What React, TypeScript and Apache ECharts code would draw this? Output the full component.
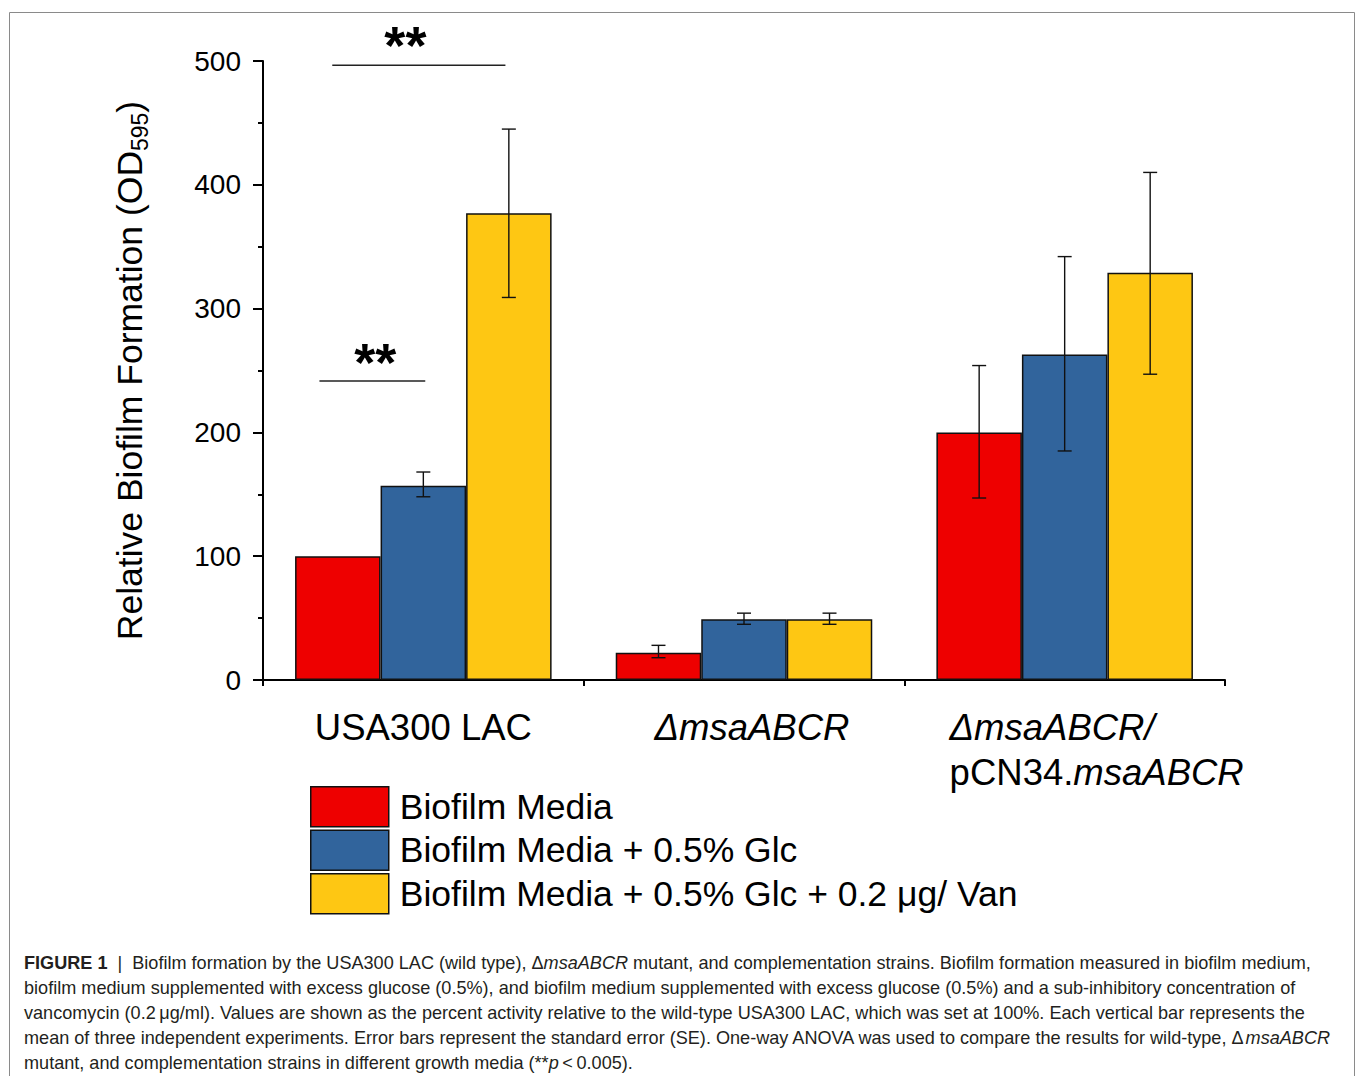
import React, { useEffect, useRef } from "react";
import * as echarts from "echarts";

// ---------- data ----------
const categories = ["USA300 LAC", "ΔmsaABCR", "ΔmsaABCR/pCN34.msaABCR"];
const seriesNames = [
  "Biofilm Media",
  "Biofilm Media + 0.5% Glc",
  "Biofilm Media + 0.5% Glc + 0.2 μg/ Van",
];
const mediaValues = [100, 22, 200];
const glcValues = [157, 49, 263];
const vanValues = [377, 49, 329];

// error bars [low, high] (null = no error bar drawn)
const mediaErr: ([number, number] | null)[] = [null, [18, 28], [147, 254]];
const glcErr: ([number, number] | null)[] = [[148, 168], [45, 54], [185, 342]];
const vanErr: ([number, number] | null)[] = [[309, 445], [45, 54], [247, 410]];

// significance brackets (x in category-width units relative to category centre)
const sigCategory = [0, 0];
const sigLevel = [496.5, 241.5];
const sigStart = [-0.284, -0.324];
const sigEnd = [0.256, 0.006];
const sigStarX = [-0.056, -0.15];
const sigStarLevel = [513, 257];
const sigText = ["**", "**"];

const yTicks = { min: 0, max: 500, interval: 100 };

const colors = ["#EE0000", "#31649C", "#FEC713"];

const SANS = '"Liberation Sans", Arial, Helvetica, sans-serif';

const captionLines = [
  "{b|FIGURE 1} {n| |  Biofilm formation by the USA300 LAC (wild type), Δ}{i|msaABCR}{n| mutant, and complementation strains. Biofilm formation measured in biofilm medium,}",
  "{n|biofilm medium supplemented with excess glucose (0.5%), and biofilm medium supplemented with excess glucose (0.5%) and a sub-inhibitory concentration of}",
  "{n|vancomycin (0.2\u2009μg/ml). Values are shown as the percent activity relative to the wild-type USA300 LAC, which was set at 100%. Each vertical bar represents the}",
  "{n|mean of three independent experiments. Error bars represent the standard error (SE). One-way ANOVA was used to compare the results for wild-type, Δ}{i|msaABCR}",
  "{n|mutant, and complementation strains in different growth media (**}{i|p}{n|\u2009<\u20090.005).}",
];

const BAR_CAT_GAP = 0.2;

function errData(err: ([number, number] | null)[]) {
  const out: number[][] = [];
  err.forEach((e, i) => {
    if (e) out.push([i, e[0], e[1]]);
  });
  return out;
}

const makeErrRender = (k: number) => (params: any, api: any) => {
  const cat = api.value(0);
  const lo = api.value(1);
  const hi = api.value(2);
  const pLo = api.coord([cat, lo]);
  const pHi = api.coord([cat, hi]);
  const bandW = api.size([1, 0])[0];
  const barW = (bandW * (1 - BAR_CAT_GAP)) / 3;
  const x = pLo[0] + (k - 1) * barW;
  const cap = 7;
  const style = { stroke: "#111", lineWidth: 1.4 };
  return {
    type: "group",
    children: [
      { type: "line", shape: { x1: x, y1: pLo[1], x2: x, y2: pHi[1] }, style },
      { type: "line", shape: { x1: x - cap, y1: pLo[1], x2: x + cap, y2: pLo[1] }, style },
      { type: "line", shape: { x1: x - cap, y1: pHi[1], x2: x + cap, y2: pHi[1] }, style },
    ],
  };
};

const sigRender = (params: any, api: any) => {
  const c = api.coord([api.value(0), api.value(1)]);
  const bw = api.size([1, 0])[0];
  const x0 = c[0] + api.value(2) * bw;
  const x1 = c[0] + api.value(3) * bw;
  const sx = c[0] + api.value(4) * bw;
  const sy = api.coord([api.value(0), api.value(5)])[1];
  return {
    type: "group",
    children: [
      { type: "line", shape: { x1: x0, y1: c[1], x2: x1, y2: c[1] }, style: { stroke: "#222", lineWidth: 1.5 } },
      {
        type: "text",
        x: sx,
        y: sy,
        style: {
          text: sigText[params.dataIndex],
          fill: "#000",
          fontSize: 54,
          fontWeight: "bold",
          fontFamily: SANS,
          align: "center",
          verticalAlign: "middle",
        },
      },
    ],
  };
};

export default function App() {
  const ref = useRef<HTMLDivElement>(null);

  useEffect(() => {
    if (!ref.current) return;
    const chart = echarts.init(ref.current, null, { renderer: "svg" });

    const LH = 45;
    const FS = 36.5;
    const labelRich = {
      n: { fontFamily: SANS, fontSize: FS, color: "#000", lineHeight: LH, align: "left" },
      i: { fontFamily: SANS, fontSize: FS, fontStyle: "italic", color: "#000", lineHeight: LH, align: "left" },
      pad: { width: 64, lineHeight: LH, align: "left" },
      pad16: { width: 16, lineHeight: LH, align: "left" },
    };

    const labelFormatter = (_v: string, idx: number) => {
      if (idx === 0) return "{n|USA300 LAC}";
      if (idx === 1) return "{pad16|}{i|ΔmsaABCR}";
      return "{pad|}{i|ΔmsaABCR/}\n{pad|}{n|pCN34.}{i|msaABCR}";
    };

    const sigData = sigLevel.map((lv, i) => [
      sigCategory[i],
      lv,
      sigStart[i],
      sigEnd[i],
      sigStarX[i],
      sigStarLevel[i],
    ]);

    const option: any = {
      animation: false,
      backgroundColor: "#fff",
      grid: { left: 263, right: 132, top: 61, bottom: 396, containLabel: false },
      legend: {
        data: seriesNames,
        orient: "vertical",
        left: 310,
        top: 786,
        itemWidth: 78,
        itemHeight: 40,
        itemGap: 2,
        icon: "rect",
        selectedMode: false,
        padding: 0,
        itemStyle: { borderColor: "#111", borderWidth: 1.5 },
        textStyle: {
          fontFamily: SANS,
          fontSize: 35.5,
          color: "#000",
          lineHeight: 40,
          padding: [0, 0, 0, 6],
        },
      },
      xAxis: [
        {
          type: "category",
          data: categories,
          position: "bottom",
          axisLine: { lineStyle: { color: "#000", width: 2 } },
          axisTick: { alignWithLabel: true, length: 12, lineStyle: { color: "#000", width: 2 } },
          axisLabel: {
            margin: 25,
            formatter: labelFormatter,
            rich: labelRich,
            interval: 0,
          },
          splitLine: { show: false },
        },
        {
          type: "category",
          data: categories,
          position: "bottom",
          axisLine: { show: false },
          axisTick: { show: true, length: 6, lineStyle: { color: "#000", width: 2 } },
          axisLabel: { show: false },
          splitLine: { show: false },
        },
      ],
      yAxis: {
        type: "value",
        min: yTicks.min,
        max: yTicks.max,
        interval: yTicks.interval,
        name: "Relative Biofilm Formation (OD{s|595})",
        nameLocation: "middle",
        nameGap: 112,
        nameTextStyle: {
          fontFamily: SANS,
          fontSize: 35.5,
          color: "#000",
          lineHeight: 42,
          rich: {
            s: { fontFamily: SANS, fontSize: 23, color: "#000", verticalAlign: "bottom", lineHeight: 30 },
          },
        },
        axisLine: { show: true, lineStyle: { color: "#000", width: 2 } },
        axisTick: { show: true, length: 10, lineStyle: { color: "#000", width: 2 } },
        minorTick: { show: true, splitNumber: 2, length: 5, lineStyle: { color: "#000", width: 2 } },
        axisLabel: { fontFamily: SANS, fontSize: 28, color: "#000", margin: 22 },
        splitLine: { show: false },
      },
      series: [
        ...[mediaValues, glcValues, vanValues].map((vals, k) => ({
          name: seriesNames[k],
          type: "bar",
          data: vals,
          barGap: "0%",
          barCategoryGap: "20%",
          itemStyle: { color: colors[k], borderColor: "#111", borderWidth: 1.5 },
          z: 2,
        })),
        ...[mediaErr, glcErr, vanErr].map((err, k) => ({
          name: "err" + k,
          type: "custom",
          renderItem: makeErrRender(k),
          data: errData(err),
          encode: { x: 0, y: [1, 2] },
          z: 5,
          clip: false,
          silent: true,
        })),
        {
          name: "significance",
          type: "custom",
          renderItem: sigRender,
          data: sigData,
          encode: { x: 0, y: 1 },
          z: 6,
          clip: false,
          silent: true,
        },
      ],
      graphic: [
        {
          type: "rect",
          shape: { x: 9.5, y: 12.5, width: 1345, height: 1100 },
          style: { fill: "none", stroke: "#8a8a8a", lineWidth: 1 },
          silent: true,
          z: 0,
        },
        {
          type: "text",
          left: 24,
          top: 950,
          style: {
            text: captionLines.join("\n"),
            fill: "#231f20",
            fontFamily: SANS,
            fontSize: 18.1,
            lineHeight: 25,
            rich: {
              n: { fontFamily: SANS, fontSize: 18.1, lineHeight: 25, fill: "#231f20" },
              i: { fontFamily: SANS, fontSize: 18.1, lineHeight: 25, fontStyle: "italic", fill: "#231f20" },
              b: { fontFamily: SANS, fontSize: 18.1, lineHeight: 25, fontWeight: "bold", fill: "#231f20" },
            },
          },
          silent: true,
        },
      ],
    };

    chart.setOption(option);
    return () => chart.dispose();
  }, []);

  return (
    <div
      ref={ref}
      style={{ position: "absolute", left: 0, top: 0, width: 1357, height: 1076, background: "#fff" }}
    />
  );
}
